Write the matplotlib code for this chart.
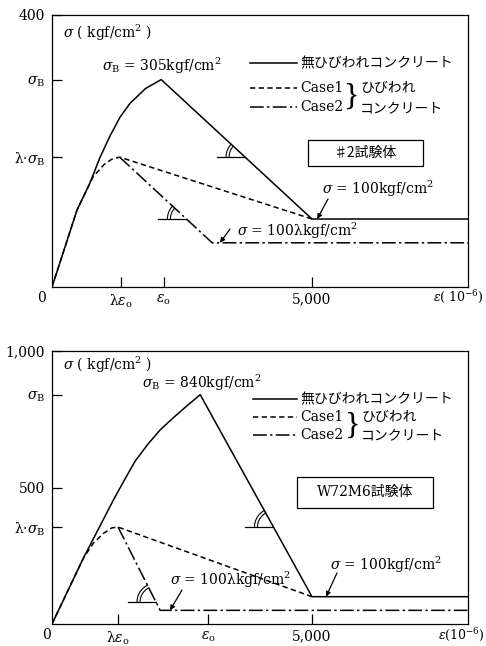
import matplotlib
matplotlib.use('Agg')
import matplotlib.pyplot as plt
from matplotlib.lines import Line2D
from matplotlib.patches import Rectangle
import numpy as np

plt.rcParams['font.family'] = ['DejaVu Serif', 'Noto Sans CJK JP']
plt.rcParams['mathtext.fontset'] = 'dejavuserif'

# ---------------- data: top chart (#2 specimen) ----------------
top_main_x = [0, 480, 730, 920, 1115, 1310, 1500, 1800, 2100, 5000, 8000]
top_main_y = [0, 113, 153, 190, 222, 250, 270, 292, 305, 100, 100]
top_case1_x = [0, 480, 790, 1000, 1150, 1300, 5000]
top_case1_y = [0, 113, 162, 180, 188, 191, 100]
top_case2_x = [1300, 3080, 8000]
top_case2_y = [191, 65, 65]
top_xticks = [1330, 2150, 5000]
top_yticks = [400, 305, 191]

# ---------------- data: bottom chart (W72M6 specimen) ----------------
bot_main_x = [0, 600, 1180, 1400, 1600, 1850, 2080, 2330, 2600, 2850, 5000, 8000]
bot_main_y = [0, 240, 454, 530, 597, 660, 711, 755, 800, 840, 100, 100]
bot_case1_x = [0, 600, 795, 990, 1150, 1270, 5000]
bot_case1_y = [0, 240, 296, 332, 352, 355, 100]
bot_case2_x = [1270, 2080, 8000]
bot_case2_y = [355, 50, 50]
bot_xticks = [1270, 3000, 5000]
bot_yticks = [1000, 840, 500, 355]

xticklabels = ['λ$\\varepsilon_\\mathrm{o}$', '$\\varepsilon_\\mathrm{o}$', '5,000']
top_yticklabels = ['400', '$\\sigma_\\mathrm{B}$', 'λ·$\\sigma_\\mathrm{B}$']
bot_yticklabels = ['1,000', '$\\sigma_\\mathrm{B}$', '500', 'λ·$\\sigma_\\mathrm{B}$']

legend_labels = ['無ひびわれコンクリート', 'Case1', 'Case2']

W, H = 486, 646
fig = plt.figure(figsize=(W / 100, H / 100), dpi=100)
fig.patch.set_facecolor('white')

DASH = (0, (3.5, 2.2))
DASHDOT = (0, (9, 2.2, 1.5, 2.2))
LW = 1.1
CJK = ['Noto Sans CJK JP', 'DejaVu Serif']


def P(x, y):
    return (x / W, 1 - y / H)


def ftext(x, y, s, **kw):
    kw.setdefault('fontsize', 10)
    kw.setdefault('va', 'center')
    kw.setdefault('ha', 'left')
    fig.text(x / W, 1 - y / H, s, **kw)


def fline(xs, ys, **kw):
    kw.setdefault('color', 'k')
    kw.setdefault('lw', LW)
    fig.add_artist(Line2D([x / W for x in xs], [1 - y / H for y in ys],
                          transform=fig.transFigure, **kw))


def angle_marker(ax, x0, y0, x1, y1, ylev):
    t = (y0 - ylev) / (y0 - y1)
    xv = x0 + t * (x1 - x0)
    V = ax.transData.transform((xv, ylev))
    U = ax.transData.transform((x0, y0))
    ang = np.degrees(np.arctan2(U[1] - V[1], U[0] - V[0]))
    inv = fig.transFigure.inverted()
    seg = inv.transform([[V[0] - 28, V[1]], [V[0], V[1]]])
    fig.add_artist(Line2D(seg[:, 0], seg[:, 1], transform=fig.transFigure,
                          color='k', lw=0.9))
    for r in (16, 19):
        th = np.radians(np.linspace(ang, 180, 40))
        pts = inv.transform(np.c_[V[0] + r * np.cos(th), V[1] + r * np.sin(th)])
        fig.add_artist(Line2D(pts[:, 0], pts[:, 1], transform=fig.transFigure,
                              color='k', lw=0.8))


def setup_axes(ax, ymax, yticks, yticklabels, xticks):
    ax.set_xlim(0, 8000)
    ax.set_ylim(0, ymax)
    ax.set_xticks(xticks)
    ax.set_xticklabels(xticklabels)
    ax.set_yticks(yticks)
    ax.set_yticklabels(yticklabels)
    ax.tick_params(direction='in', length=7, width=0.9, labelsize=10)
    ax.tick_params(axis='x', pad=4)
    ax.tick_params(axis='y', pad=5)
    for sp in ax.spines.values():
        sp.set_linewidth(0.9)


def draw_panel(ax, mx, my, c1x, c1y, c2x, c2y):
    ax.plot(mx, my, color='k', lw=LW, solid_joinstyle='round')
    ax.plot(c1x, c1y, color='k', lw=LW, linestyle=DASH)
    ax.plot(c2x, c2y, color='k', lw=LW, linestyle=DASHDOT)


arrow_kw = dict(arrowstyle='-|>', lw=0.9, color='k', mutation_scale=7,
                shrinkA=0, shrinkB=0)

# ================= top panel =================
ax1 = fig.add_axes([52 / W, 1 - 287 / H, 416 / W, 272 / H])
setup_axes(ax1, 400, top_yticks, top_yticklabels, top_xticks)
draw_panel(ax1, top_main_x, top_main_y, top_case1_x, top_case1_y,
           top_case2_x, top_case2_y)

angle_marker(ax1, top_main_x[8], top_main_y[8], top_main_x[9], top_main_y[9], 191)
angle_marker(ax1, top_case2_x[0], top_case2_y[0], top_case2_x[1], top_case2_y[1], 100)

ftext(42, 298, '0', ha='center')
ftext(484, 297, '$\\varepsilon$( 10$^{-6}$)', ha='right', fontsize=9)
ftext(63, 33, '$\\sigma$ ( kgf/cm$^2$ )')
ftext(102, 66, '$\\sigma_\\mathrm{B}$ = 305kgf/cm$^2$')
ftext(322, 189, '$\\sigma$ = 100kgf/cm$^2$')
ftext(237, 231, '$\\sigma$ = 100λkgf/cm$^2$')
ax1.annotate('', xy=(5100, 100), xycoords='data', xytext=P(328, 199),
             textcoords='figure fraction', arrowprops=arrow_kw)
ax1.annotate('', xy=(3230, 65), xycoords='data', xytext=P(230, 229),
             textcoords='figure fraction', arrowprops=arrow_kw)

# legend (top)
fline([250, 297], [63, 63])
fline([250, 297], [88, 88], linestyle=DASH)
fline([250, 297], [107, 107], linestyle=DASHDOT)
ftext(300, 63, legend_labels[0])
ftext(300, 88, legend_labels[1])
ftext(300, 107, legend_labels[2])
ftext(351, 97, '}', fontsize=23, family='Liberation Serif', ha='center')
ftext(360, 88, 'ひびわれ')
ftext(360, 108, 'コンクリート')

# specimen box (top)
fig.add_artist(Rectangle(P(308, 166), 115 / W, 26 / H, transform=fig.transFigure,
                         fill=False, edgecolor='k', lw=0.9))
ftext(365.5, 153, '♯2試験体', ha='center', family=CJK)

# ================= bottom panel =================
ax2 = fig.add_axes([52 / W, 1 - 624 / H, 416 / W, 273 / H])
setup_axes(ax2, 1000, bot_yticks, bot_yticklabels, bot_xticks)
draw_panel(ax2, bot_main_x, bot_main_y, bot_case1_x, bot_case1_y,
           bot_case2_x, bot_case2_y)

angle_marker(ax2, bot_main_x[9], bot_main_y[9], bot_main_x[10], bot_main_y[10], 355)
angle_marker(ax2, bot_case2_x[0], bot_case2_y[0], bot_case2_x[1], bot_case2_y[1], 80)

ftext(46, 635, '0', ha='center')
ftext(485, 635, '$\\varepsilon$(10$^{-6}$)', ha='right', fontsize=9)
ftext(63, 365, '$\\sigma$ ( kgf/cm$^2$ )')
ftext(142, 383, '$\\sigma_\\mathrm{B}$ = 840kgf/cm$^2$')
ftext(330, 565, '$\\sigma$ = 100kgf/cm$^2$')
ftext(170, 580, '$\\sigma$ = 100λkgf/cm$^2$')
ax2.annotate('', xy=(5270, 100), xycoords='data', xytext=P(337, 573),
             textcoords='figure fraction', arrowprops=arrow_kw)
ax2.annotate('', xy=(2270, 50), xycoords='data', xytext=P(182, 590),
             textcoords='figure fraction', arrowprops=arrow_kw)

# legend (bottom)
fline([253, 297], [399, 399])
fline([253, 297], [417, 417], linestyle=DASH)
fline([253, 297], [435, 435], linestyle=DASHDOT)
ftext(300, 399, legend_labels[0])
ftext(300, 417, legend_labels[1])
ftext(300, 435, legend_labels[2])
ftext(352, 426, '}', fontsize=23, family='Liberation Serif', ha='center')
ftext(361, 417, 'ひびわれ')
ftext(361, 435, 'コンクリート')

# specimen box (bottom)
fig.add_artist(Rectangle(P(297, 508), 136 / W, 31 / H, transform=fig.transFigure,
                         fill=False, edgecolor='k', lw=0.9))
ftext(365, 492, 'W72M6試験体', ha='center')

fig.savefig('out.png', dpi=100)
